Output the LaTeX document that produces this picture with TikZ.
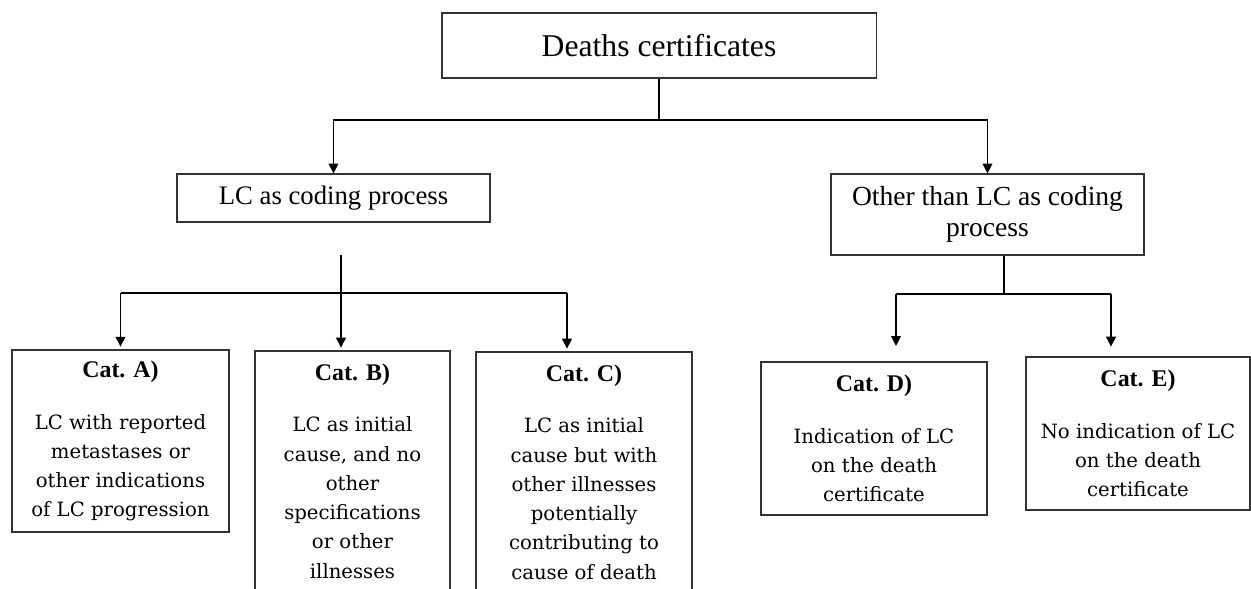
\documentclass[tikz,border=0pt]{standalone}
\usepackage{fontspec}
\setmainfont{DejaVu Serif}
\newfontfamily\headfont{Liberation Serif}
\usetikzlibrary{arrows.meta}
\newcommand\cattitle[1]{{\headfont\bfseries\fontsize{17}{20}\selectfont #1}\\[16pt]}

\begin{document}
\begin{tikzpicture}[x=0.025cm,y=-0.025cm,
  headbox/.style={draw=black!80,line width=0.8pt,align=center,inner sep=0pt,font=\headfont\fontsize{19}{22}\selectfont},
  catbox/.style={draw=black!80,line width=0.8pt,align=center,inner sep=0pt,font=\fontsize{14}{20.8}\selectfont},
  conn/.style={line width=0.8pt},
  arr/.style={conn,-{Triangle[width=7pt,length=7pt]}}]
\useasboundingbox (0,0) rectangle (1251,589);
\node[headbox,minimum width=10.85cm,minimum height=1.625cm,font=\headfont\fontsize{22.5}{24}\selectfont] (dc) at (659,45.5) {Deaths certificates};
\node[headbox,minimum width=7.825cm,minimum height=1.2cm] (lc) at (333.5,198) {LC as coding process};
\node[headbox,minimum width=7.825cm,minimum height=2.025cm,font=\headfont\fontsize{19.6}{22}\selectfont] (other) at (987.5,214.5) {Other than LC as coding\\process\rule[-3pt]{0pt}{1pt}};
\node[catbox,minimum width=5.425cm,minimum height=4.55cm] (catA) at (120.5,441)
  {\cattitle{Cat. A)}LC with reported\\metastases or\\other indications\\of LC progression};
\node[catbox,minimum width=4.875cm,minimum height=6cm] (catB) at (352.5,471)
  {\cattitle{Cat. B)}LC as initial\\cause, and no\\other\\specifications\\or other\\illnesses};
\node[catbox,minimum width=5.4cm,minimum height=6cm] (catC) at (584,472)
  {\cattitle{Cat. C)}LC as initial\\cause but with\\other illnesses\\potentially\\contributing to\\cause of death};
\node[catbox,minimum width=5.65cm,minimum height=3.825cm] (catD) at (874,438.5)
  {\cattitle{Cat. D)}Indication of LC\\on the death\\certificate};
\node[catbox,minimum width=5.6cm,minimum height=3.825cm] (catE) at (1138,433.5)
  {\cattitle{Cat. E)}No indication of LC\\on the death\\certificate};

\coordinate (topbus) at (659,120);
\draw[conn] (dc) -- (topbus);
\draw[arr] (topbus) -| (lc);
\draw[arr] (topbus) -| (other);

\coordinate (lcstub) at (341,255);
\coordinate (lcbus) at (341,293);
\coordinate (lcbusA) at (120.5,293);
\coordinate (lcbusC) at (567,293);
\draw[conn] (lcstub) -- (lcbus);
\draw[conn] (lcbusA) -- (lcbusC);
\foreach \c/\n in {lcbusA/catA,lcbus/catB,lcbusC/catC}
  \draw[arr,shorten >=2pt] (\c) -- (\c |- \n.north);

\coordinate (obus) at (1004,294);
\coordinate (obusD) at (896,294);
\coordinate (obusE) at (1111,294);
\draw[conn] (obus |- other.south) -- (obus);
\draw[conn] (obusD) -- (obusE);
\draw[arr,shorten >=11pt] (obusD) -- (obusD |- catD.north);
\draw[arr,shorten >=7pt] (obusE) -- (obusE |- catE.north);
\end{tikzpicture}
\end{document}
